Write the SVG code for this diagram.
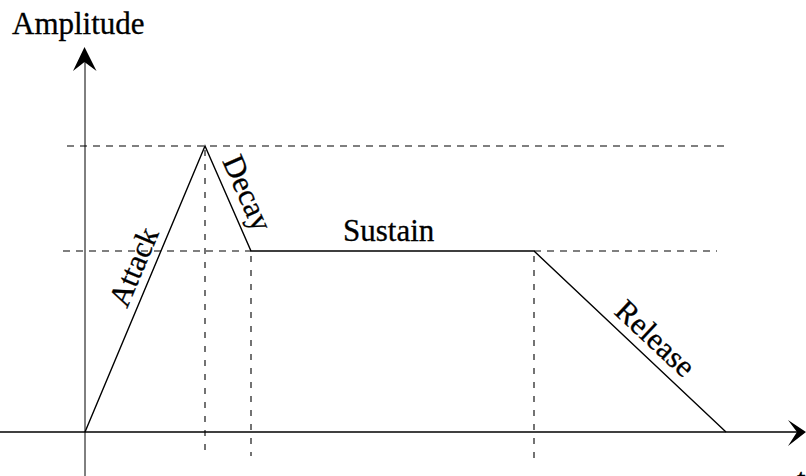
<svg xmlns="http://www.w3.org/2000/svg" width="806" height="476" viewBox="0 0 806 476">
<style>
  text { font-family: "Liberation Serif", "Times New Roman", serif; font-size: 31px; fill: #000; stroke: #000; stroke-width: 0.3; }
  .dash { stroke: #000; stroke-width: 1.1; stroke-dasharray: 7 6; fill: none; }
  .vdash { stroke: #000; stroke-width: 1.1; stroke-dasharray: 6 8; fill: none; }
  .axis { stroke: #000; fill: none; }
  .env { stroke: #000; stroke-width: 1.4; fill: none; stroke-linejoin: miter; }
</style>
<rect width="806" height="476" fill="#fff"/>
<g id="guides">
  <line class="dash" x1="67" y1="146" x2="725" y2="146"/>
  <line class="dash" x1="63" y1="251" x2="251" y2="251"/>
  <line class="dash" x1="534" y1="251" x2="717" y2="251"/>
  <line class="vdash" x1="205" y1="150" x2="205" y2="456"/>
  <line class="vdash" x1="251" y1="256" x2="251" y2="456"/>
  <line class="vdash" x1="534" y1="256" x2="534" y2="458"/>
</g>
<g id="axes">
  <line class="axis" x1="85" y1="58" x2="85" y2="476" stroke="#444" stroke-width="1"/>
  <polygon points="84.5,47 73,71 84.5,62 96.5,71" fill="#000"/>
  <line class="axis" x1="0" y1="432" x2="798" y2="432" stroke-width="1.6"/>
  <polygon points="806,432 788,420 797,432 788,446" fill="#000"/>
  <text x="12" y="34">Amplitude</text>
  <text x="797" y="490">t</text>
</g>
<g id="envelope">
  <polyline class="env" points="85,432 205,146 251,251 534,251 726,432"/>
</g>
<g id="labels">
  <text transform="translate(127,309) rotate(-67)">Attack</text>
  <text transform="translate(222,161) rotate(66)">Decay</text>
  <text x="343" y="241">Sustain</text>
  <text transform="translate(613,313) rotate(43)">Release</text>
</g>
</svg>
